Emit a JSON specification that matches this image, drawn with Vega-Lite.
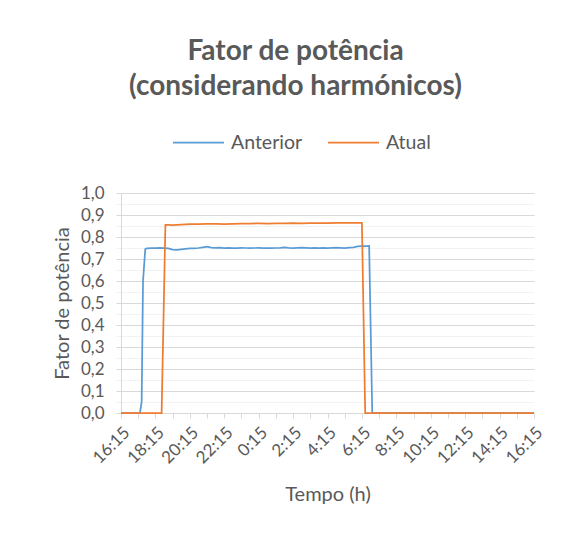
{
  "$schema": "https://vega.github.io/schema/vega-lite/v6.json",
  "width": 413,
  "height": 220,
  "autosize": {"type": "none"},
  "padding": {"left": 121, "top": 193, "right": 41, "bottom": 121},
  "background": "white",
  "config": {
    "font": "Lato",
    "view": {"stroke": null}
  },
  "title": {
    "text": ["Fator de potência", "(considerando harmónicos)"],
    "fontSize": 28,
    "fontWeight": "bold",
    "color": "#595959",
    "anchor": "middle",
    "frame": "group",
    "dx": -32,
    "offset": 15,
    "lineHeight": 35
  },
  "data": {
    "values": [
      {"h": 0, "fp": 0, "serie": "Anterior"},
      {"h": 1.1, "fp": 0, "serie": "Anterior"},
      {"h": 1.2, "fp": 0.05, "serie": "Anterior"},
      {"h": 1.28, "fp": 0.6, "serie": "Anterior"},
      {"h": 1.41, "fp": 0.745, "serie": "Anterior"},
      {"h": 1.5, "fp": 0.748, "serie": "Anterior"},
      {"h": 1.75, "fp": 0.749, "serie": "Anterior"},
      {"h": 2.0, "fp": 0.749, "serie": "Anterior"},
      {"h": 2.25, "fp": 0.75, "serie": "Anterior"},
      {"h": 2.5, "fp": 0.749, "serie": "Anterior"},
      {"h": 2.75, "fp": 0.748, "serie": "Anterior"},
      {"h": 3.0, "fp": 0.743, "serie": "Anterior"},
      {"h": 3.25, "fp": 0.742, "serie": "Anterior"},
      {"h": 3.5, "fp": 0.744, "serie": "Anterior"},
      {"h": 3.75, "fp": 0.746, "serie": "Anterior"},
      {"h": 4.0, "fp": 0.748, "serie": "Anterior"},
      {"h": 4.25, "fp": 0.748, "serie": "Anterior"},
      {"h": 4.5, "fp": 0.75, "serie": "Anterior"},
      {"h": 4.75, "fp": 0.753, "serie": "Anterior"},
      {"h": 5.0, "fp": 0.756, "serie": "Anterior"},
      {"h": 5.25, "fp": 0.752, "serie": "Anterior"},
      {"h": 5.5, "fp": 0.751, "serie": "Anterior"},
      {"h": 5.75, "fp": 0.752, "serie": "Anterior"},
      {"h": 6.0, "fp": 0.75, "serie": "Anterior"},
      {"h": 6.25, "fp": 0.751, "serie": "Anterior"},
      {"h": 6.5, "fp": 0.75, "serie": "Anterior"},
      {"h": 6.75, "fp": 0.75, "serie": "Anterior"},
      {"h": 7.0, "fp": 0.751, "serie": "Anterior"},
      {"h": 7.25, "fp": 0.75, "serie": "Anterior"},
      {"h": 7.5, "fp": 0.749, "serie": "Anterior"},
      {"h": 7.75, "fp": 0.75, "serie": "Anterior"},
      {"h": 8.0, "fp": 0.751, "serie": "Anterior"},
      {"h": 8.25, "fp": 0.75, "serie": "Anterior"},
      {"h": 8.5, "fp": 0.75, "serie": "Anterior"},
      {"h": 8.75, "fp": 0.749, "serie": "Anterior"},
      {"h": 9.0, "fp": 0.75, "serie": "Anterior"},
      {"h": 9.25, "fp": 0.751, "serie": "Anterior"},
      {"h": 9.5, "fp": 0.753, "serie": "Anterior"},
      {"h": 9.75, "fp": 0.751, "serie": "Anterior"},
      {"h": 10.0, "fp": 0.75, "serie": "Anterior"},
      {"h": 10.25, "fp": 0.751, "serie": "Anterior"},
      {"h": 10.5, "fp": 0.752, "serie": "Anterior"},
      {"h": 10.75, "fp": 0.751, "serie": "Anterior"},
      {"h": 11.0, "fp": 0.75, "serie": "Anterior"},
      {"h": 11.25, "fp": 0.751, "serie": "Anterior"},
      {"h": 11.5, "fp": 0.75, "serie": "Anterior"},
      {"h": 11.75, "fp": 0.751, "serie": "Anterior"},
      {"h": 12.0, "fp": 0.75, "serie": "Anterior"},
      {"h": 12.25, "fp": 0.751, "serie": "Anterior"},
      {"h": 12.5, "fp": 0.752, "serie": "Anterior"},
      {"h": 12.75, "fp": 0.751, "serie": "Anterior"},
      {"h": 13.0, "fp": 0.75, "serie": "Anterior"},
      {"h": 13.25, "fp": 0.752, "serie": "Anterior"},
      {"h": 13.5, "fp": 0.753, "serie": "Anterior"},
      {"h": 13.75, "fp": 0.757, "serie": "Anterior"},
      {"h": 14.0, "fp": 0.758, "serie": "Anterior"},
      {"h": 14.25, "fp": 0.758, "serie": "Anterior"},
      {"h": 14.42, "fp": 0.759, "serie": "Anterior"},
      {"h": 14.6, "fp": 0, "serie": "Anterior"},
      {"h": 24, "fp": 0, "serie": "Anterior"},
      {"h": 0, "fp": 0, "serie": "Atual"},
      {"h": 2.36, "fp": 0, "serie": "Atual"},
      {"h": 2.58, "fp": 0.855, "serie": "Atual"},
      {"h": 2.75, "fp": 0.855, "serie": "Atual"},
      {"h": 3.0, "fp": 0.854, "serie": "Atual"},
      {"h": 3.25, "fp": 0.855, "serie": "Atual"},
      {"h": 3.5, "fp": 0.856, "serie": "Atual"},
      {"h": 3.75, "fp": 0.857, "serie": "Atual"},
      {"h": 4.0, "fp": 0.858, "serie": "Atual"},
      {"h": 4.5, "fp": 0.859, "serie": "Atual"},
      {"h": 5.0, "fp": 0.86, "serie": "Atual"},
      {"h": 5.5, "fp": 0.86, "serie": "Atual"},
      {"h": 6.0, "fp": 0.859, "serie": "Atual"},
      {"h": 6.5, "fp": 0.86, "serie": "Atual"},
      {"h": 7.0, "fp": 0.861, "serie": "Atual"},
      {"h": 7.5, "fp": 0.861, "serie": "Atual"},
      {"h": 8.0, "fp": 0.862, "serie": "Atual"},
      {"h": 8.5, "fp": 0.861, "serie": "Atual"},
      {"h": 9.0, "fp": 0.862, "serie": "Atual"},
      {"h": 9.5, "fp": 0.862, "serie": "Atual"},
      {"h": 10.0, "fp": 0.863, "serie": "Atual"},
      {"h": 10.5, "fp": 0.862, "serie": "Atual"},
      {"h": 11.0, "fp": 0.863, "serie": "Atual"},
      {"h": 11.5, "fp": 0.863, "serie": "Atual"},
      {"h": 12.0, "fp": 0.863, "serie": "Atual"},
      {"h": 12.5, "fp": 0.864, "serie": "Atual"},
      {"h": 13.0, "fp": 0.864, "serie": "Atual"},
      {"h": 13.5, "fp": 0.864, "serie": "Atual"},
      {"h": 14.0, "fp": 0.864, "serie": "Atual"},
      {"h": 14.19, "fp": 0, "serie": "Atual"},
      {"h": 24, "fp": 0, "serie": "Atual"}
    ]
  },
  "mark": {"type": "line", "strokeWidth": 1.75},
  "encoding": {
    "x": {
      "field": "h",
      "type": "quantitative",
      "scale": {"domain": [0, 24], "nice": false, "zero": false},
      "axis": {
        "title": "Tempo (h)",
        "titleFontSize": 20,
        "titleFontWeight": "normal",
        "titleColor": "#595959",
        "titlePadding": 18,
        "values": [0,1,2,3,4,5,6,7,8,9,10,11,12,13,14,15,16,17,18,19,20,21,22,23,24],
        "labelExpr": "datum.value % 2 == 0 ? ((16 + datum.value) % 24) + ':15' : ''",
        "labelAngle": -45,
        "labelFontSize": 17,
        "labelColor": "#595959",
        "labelPadding": 6,
        "labelOverlap": false,
        "labelFlush": false,
        "grid": false,
        "domainColor": "#d9d9d9",
        "domainWidth": 1,
        "tickColor": "#d9d9d9",
        "tickSize": 5
      }
    },
    "y": {
      "field": "fp",
      "type": "quantitative",
      "scale": {"domain": [0, 1], "nice": false},
      "axis": {
        "title": "Fator de potência",
        "titleFontSize": 20,
        "titleFontWeight": "normal",
        "titleColor": "#595959",
        "titlePadding": 8,
        "values": [0, 0.05, 0.1, 0.15, 0.2, 0.25, 0.3, 0.35, 0.4, 0.45, 0.5, 0.55, 0.6, 0.65, 0.7, 0.75, 0.8, 0.85, 0.9, 0.95, 1.0],
        "labelExpr": "round(datum.value * 100) % 10 == 0 ? replace(format(datum.value, '.1f'), '.', ',') : ''",
        "labelFontSize": 17,
        "labelColor": "#595959",
        "labelPadding": 12,
        "labelOverlap": false,
        "labelFlush": false,
        "grid": true,
        "gridColor": {"condition": {"test": "round(datum.value * 100) % 10 == 0", "value": "#d9d9d9"}, "value": "#f2f2f2"},
        "gridWidth": 1,
        "domainColor": "#d9d9d9",
        "tickColor": {"condition": {"test": "round(datum.value * 100) % 10 == 0", "value": "#d9d9d9"}, "value": "#f2f2f2"},
        "tickSize": 5
      }
    },
    "color": {
      "field": "serie",
      "type": "nominal",
      "scale": {"domain": ["Anterior", "Atual"], "range": ["#5B9BD5", "#ED7D31"]},
      "legend": {
        "title": null,
        "orient": "none",
        "direction": "horizontal",
        "legendX": 51,
        "legendY": -77,
        "symbolType": "stroke",
        "symbolSize": 2601,
        "symbolStrokeWidth": 1.75,
        "labelFontSize": 19.5,
        "labelColor": "#595959",
        "labelOffset": 6,
        "columnPadding": 21
      }
    }
  }
}
